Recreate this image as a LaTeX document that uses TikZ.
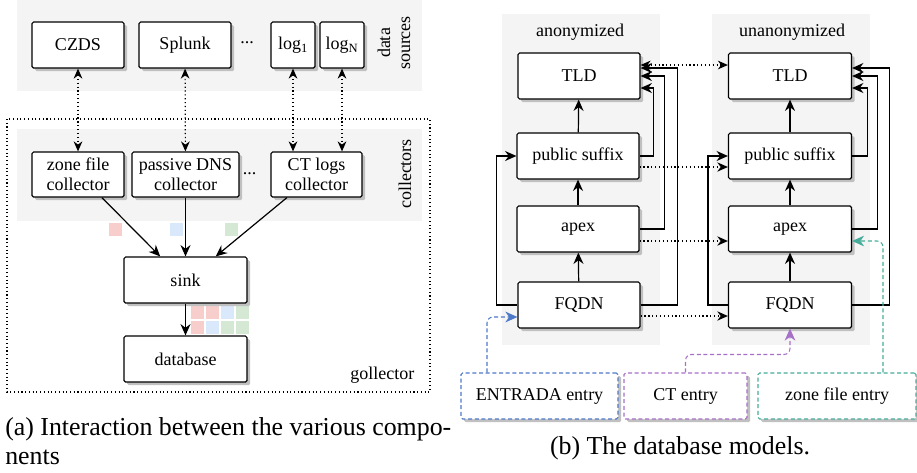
\documentclass[tikz,border=0pt]{standalone}
\usepackage{fontspec}
\setmainfont{Liberation Serif}
\usepackage{tikz}
\usetikzlibrary{positioning,arrows.meta,shadows,calc}

\definecolor{panelgray}{RGB}{244,244,244}
\definecolor{shadowgray}{RGB}{192,192,192}
\definecolor{entradablue}{RGB}{78,120,200}
\definecolor{ctpurple}{RGB}{166,112,200}
\definecolor{zoneteal}{RGB}{70,172,154}
\definecolor{sqred}{RGB}{248,206,204}
\definecolor{sqblue}{RGB}{218,232,252}
\definecolor{sqgreen}{RGB}{213,232,212}

\begin{document}
\begin{tikzpicture}[x=0.75pt,y=0.75pt,yscale=-1,xscale=1,
  every node/.style={font=\fontsize{13.5}{15}\selectfont},
  box/.style={draw, line width=0.9pt, rounded corners=1.2pt, fill=white, align=center,
    inner sep=1pt, minimum height=34.5pt,
    drop shadow={shadow xshift=2.4pt, shadow yshift=-2.4pt, fill=shadowgray, opacity=1}},
  entrybox/.style={box, dash pattern=on 3pt off 2pt, line width=0.8pt},
  panel/.style={fill=panelgray, draw=none},
  arr/.style={line width=0.9pt, -{Stealth[length=8.5pt,width=7.5pt,inset=2.8pt]}},
  dotarr/.style={line width=0.9pt, dotted, -{Stealth[length=8pt,width=7pt,inset=2.6pt]}},
  dotboth/.style={line width=0.9pt, dotted, {Stealth[length=7.5pt,width=6.5pt,inset=2.4pt]}-{Stealth[length=7.5pt,width=6.5pt,inset=2.4pt]}},
  entarr/.style={line width=0.8pt, dash pattern=on 3pt off 2pt, rounded corners=4.5pt,
    -{Stealth[length=9pt,width=8pt,inset=2.8pt]}},
  caption/.style={font=\fontsize{19.4}{21.75}\selectfont, inner sep=0pt}]
%uncomment if require: \path (0,472); %set diagram left start at 0, and has height of 472
\useasboundingbox (0,0) rectangle (917,472);

%Shape: Rectangle [data sources]
\draw [panel] (17,0) rectangle (422,91);
%Shape: Rectangle [collectors]
\draw [panel] (17,129) rectangle (422,221);
%Shape: Rectangle [gollector]
\draw [line width=0.8pt, dotted] (7,119) rectangle (430,392);

%Shape: Rectangle [anonymized]
\draw [panel] (502,14) rectangle (660,345);
%Shape: Rectangle [unanonymized]
\draw [panel] (712,14) rectangle (870,345);

%Shape: Square
\fill [sqred] (109,223) rectangle (122,236);
%Shape: Square
\fill [sqblue] (170,223) rectangle (183,236);
%Shape: Square
\fill [sqgreen] (225,223) rectangle (238,236);
%Shape: Square
\fill [sqred] (191,306) rectangle (204,319);
\fill [sqred] (206,306) rectangle (219,319);
\fill [sqblue] (221,306) rectangle (234,319);
\fill [sqgreen] (236,306) rectangle (249,319);
\fill [sqred] (191,321) rectangle (204,334);
\fill [sqblue] (206,321) rectangle (219,334);
\fill [sqgreen] (221,321) rectangle (234,334);
\fill [sqgreen] (236,321) rectangle (249,334);

% Text Node
\draw (78,45) node [box, minimum width=69pt] (czds) {CZDS};
% Text Node
\draw (185,45) node [box, minimum width=69pt] (splunk) {Splunk};
% Text Node
\draw (247,43) node [inner sep=0pt] (dotsA) {...};
% Text Node
\draw (293,45) node [box, minimum width=33pt] (log1) {log\textsubscript{1}};
% Text Node
\draw (342,45) node [box, minimum width=33pt] (logN) {log\textsubscript{N}};
% Text Node
\draw (394,43) node [rotate=90, align=center] (srclabel) {data\\sources};

% Text Node
\draw (78,174.5) node [box, minimum width=69pt, minimum height=33.75pt] (zonecol) {zone file\\collector};
% Text Node
\draw (185.5,174.5) node [box, minimum width=80.25pt, minimum height=33.75pt] (pdnscol) {passive DNS\\collector};
% Text Node
\draw (249.5,174) node [inner sep=0pt] (dotsB) {...};
% Text Node
\draw (316.5,174.5) node [box, minimum width=68.25pt, minimum height=33.75pt] (ctcol) {CT logs\\collector};
% Text Node
\draw (405,174) node [rotate=90] (collabel) {collectors};

% Text Node
\draw (185.5,280) node [box, minimum width=92.25pt] (sink) {sink};
% Text Node
\draw (185.5,359) node [box, minimum width=92.25pt] (db) {database};
% Text Node
\draw (419,375) node [anchor=east] (golabel) {gollector};

%Straight Lines
\draw [dotboth] (czds) -- (zonecol);
\draw [dotboth] (splunk) -- (pdnscol);
\draw [dotboth] (log1.south) -- (log1.south |- ctcol.north);
\draw [dotboth] (logN.south) -- (logN.south |- ctcol.north);

%Straight Lines
\draw [arr] (zonecol.-44) -- (sink.137);
\draw [arr] (pdnscol) -- (sink);
\draw [arr] (ctcol.218) -- (sink.38);
\draw [arr] (sink) -- (db);

% Text Node
\draw (5,441.5) node [caption, anchor=west, align=left] (capa) {(a) Interaction between the various compo-\\nents};

% Text Node
\draw (580,32) node (anonlabel) {anonymized};
% Text Node
\draw (792,32) node (unanonlabel) {unanonymized};

% Text Node
\draw (579,76) node [box, minimum width=91.5pt] (tldA) {TLD};
% Text Node
\draw (578,156) node [box, minimum width=91.5pt] (psA) {public suffix};
% Text Node
\draw (578,229) node [box, minimum width=91.5pt] (apexA) {apex};
% Text Node
\draw (579,305) node [box, minimum width=91.5pt] (fqdnA) {FQDN};

% Text Node
\draw (790,76) node [box, minimum width=92.25pt] (tldB) {TLD};
% Text Node
\draw (790,156) node [box, minimum width=92.25pt] (psB) {public suffix};
% Text Node
\draw (790,229) node [box, minimum width=92.25pt] (apexB) {apex};
% Text Node
\draw (790,305) node [box, minimum width=92.25pt] (fqdnB) {FQDN};

% Text Node
\draw (539.5,396) node [entrybox, draw=entradablue, minimum width=117.75pt] (entrada) {ENTRADA entry};
% Text Node
\draw (685.5,396) node [entrybox, draw=ctpurple, minimum width=92.25pt] (ctent) {CT entry};
% Text Node
\draw (837,396) node [entrybox, draw=zoneteal, minimum width=118.5pt] (zfent) {zone file entry};

%Straight Lines
\draw [arr] (fqdnA) -- (apexA);
\draw [arr] (apexA) -- (psA);
\draw [arr] (psA) -- (tldA);
\draw [arr] (psA.east) -- ++(14,0) |- ($(tldA.east)+(0,12)$);
\draw [arr] (apexA.east) -- ++(25,0) |- (tldA.east);
\draw [arr] (fqdnA.east) -- ++(37,0) |- ($(tldA.east)+(0,-8)$);
\draw [arr] (fqdnA.west) -- ++(-21,0) |- (psA.west);

%Straight Lines
\draw [arr] (fqdnB) -- (apexB);
\draw [arr] (apexB) -- (psB);
\draw [arr] (psB) -- (tldB);
\draw [arr] (psB.east) -- ++(15,0) |- ($(tldB.east)+(0,12)$);
\draw [arr] (apexB.east) -- ++(25,0) |- (tldB.east);
\draw [arr] (fqdnB.east) -- ++(37,0) |- ($(tldB.east)+(0,-8)$);
\draw [arr] (fqdnB.west) -- ++(-20,0) |- (psB.west);

%Straight Lines
\draw [dotboth] ($(tldA.east)+(0,-11)$) -- ($(tldB.west)+(0,-11)$);
\draw [dotarr] ($(psA.east)+(0,11)$) -- ($(psB.west)+(0,11)$);
\draw [dotarr] ($(apexA.east)+(0,12)$) -- ($(apexB.west)+(0,12)$);
\draw [dotarr] ($(fqdnA.east)+(0,11)$) -- ($(fqdnB.west)+(0,11)$);

%Curve Lines
\draw [entarr, entradablue] ($(entrada.north)+(-52.5,0)$) |- ($(fqdnA.west)+(0,12)$);
\draw [entarr, ctpurple] (ctent.north) -- ++(0,-18) -| (fqdnB.south);
\draw [entarr, zoneteal] ($(zfent.north)+(46,0)$) |- ($(apexB.east)+(0,12)$);

% Text Node
\draw (680,448) node [caption] (capb) {(b) The database models.};

\end{tikzpicture}
\end{document}
